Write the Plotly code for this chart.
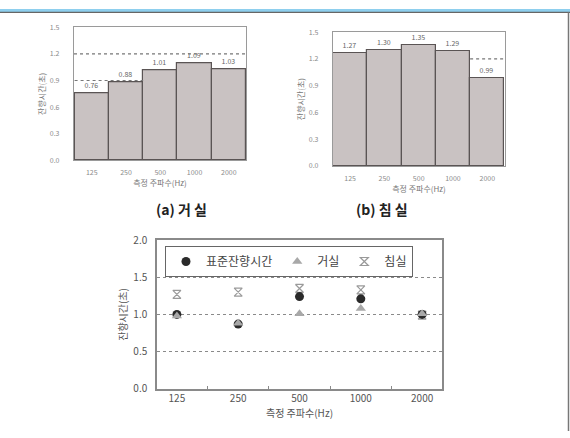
import plotly.graph_objects as go

W, H = 570, 438

# --- data ---
freqs = ["125", "250", "500", "1000", "2000"]
living_rt = [0.76, 0.88, 1.01, 1.09, 1.03]        # (a) 거실
bedroom_rt = [1.27, 1.30, 1.35, 1.29, 0.99]       # (b) 침실
standard_rt = [1.00, 0.87, 1.24, 1.21, 1.00]      # 표준잔향시간
living_pts = [0.98, 0.88, 1.01, 1.08, 1.01]       # 거실 (비교 그래프)
bedroom_pts = [1.27, 1.30, 1.35, 1.33, 0.99]      # 침실 (비교 그래프)
top_ticks = [0.0, 0.3, 0.6, 0.9, 1.2, 1.5]
bottom_ticks = [0.0, 0.5, 1.0, 1.5, 2.0]
ref_upper = 1.2
ref_lower = 0.9

KFONT = "Noto Sans CJK KR, Noto Sans, sans-serif"
BAR_FILL = "#c9c2c2"
BAR_EDGE = "#5a5454"


def px_x(a, b):
    return [a / W, b / W]


def px_y(top, bottom):
    return [1 - bottom / H, 1 - top / H]


fig = go.Figure()

# bar charts
for vals, xa, ya in [(living_rt, "x", "y"), (bedroom_rt, "x2", "y2")]:
    fig.add_trace(go.Bar(
        x=freqs, y=vals, xaxis=xa, yaxis=ya,
        marker=dict(color=BAR_FILL, line=dict(color=BAR_EDGE, width=1.2)),
        text=[f"{v:.2f}" for v in vals], textposition="outside",
        textfont=dict(size=7, color="#666", family=KFONT),
        cliponaxis=False, showlegend=False, width=1.0,
    ))

# comparison scatter (legend order set by legendrank)
fig.add_trace(go.Scatter(
    x=freqs, y=bedroom_pts, xaxis="x3", yaxis="y3", mode="markers", name="침실",
    legendrank=3,
    marker=dict(symbol="hourglass-open", size=8, color="#9a9a9a", line=dict(width=1.2)),
))
fig.add_trace(go.Scatter(
    x=freqs, y=standard_rt, xaxis="x3", yaxis="y3", mode="markers", name="표준잔향시간",
    legendrank=1,
    marker=dict(symbol="circle", size=9, color="#2a2a2a"),
))
fig.add_trace(go.Scatter(
    x=freqs, y=living_pts, xaxis="x3", yaxis="y3", mode="markers", name="거실",
    legendrank=2,
    marker=dict(symbol="triangle-up", size=9, color="#a8a8a8"),
))

small_axis = dict(
    showline=True, mirror=True, linecolor="#9a9a9a", linewidth=1.2,
    showgrid=False, zeroline=False, fixedrange=True,
    tickfont=dict(size=7, color="#8a8a8a", family=KFONT),
)

fig.update_layout(
    width=W, height=H, margin=dict(l=0, r=0, t=0, b=0),
    paper_bgcolor="white", plot_bgcolor="white",
    bargap=0, font=dict(family=KFONT),
    xaxis=dict(domain=px_x(74, 246), anchor="y", type="category",
               ticks="outside", ticklen=5, tickcolor="rgba(0,0,0,0)",
               title=dict(text="측정 주파수(Hz)", font=dict(size=8, color="#777"), standoff=2),
               **small_axis),
    yaxis=dict(domain=px_y(19, 157), anchor="x", range=[0, 1.5], tickvals=top_ticks,
               tickformat=".1f", ticks="outside", ticklen=12, tickcolor="rgba(0,0,0,0)",
               title=dict(text="잔향시간(초)", font=dict(size=8, color="#777"), standoff=2),
               **small_axis),
    xaxis2=dict(domain=px_x(333, 505), anchor="y2", type="category",
                ticks="outside", ticklen=5, tickcolor="rgba(0,0,0,0)",
                title=dict(text="측정 주파수(Hz)", font=dict(size=8, color="#777"), standoff=2),
                **small_axis),
    yaxis2=dict(domain=px_y(24, 163), anchor="x2", range=[0, 1.5], tickvals=top_ticks,
                tickformat=".1f", ticks="outside", ticklen=12, tickcolor="rgba(0,0,0,0)",
                title=dict(text="잔향시간(초)", font=dict(size=8, color="#777"), standoff=2),
                **small_axis),
    xaxis3=dict(domain=px_x(157, 442), anchor="y3", type="category",
                showline=True, mirror=True, linecolor="#8a8a8a", linewidth=1.5,
                showgrid=False, zeroline=False, fixedrange=True,
                tickson="boundaries", ticks="inside", ticklen=3, tickcolor="#8a8a8a",
                tickfont=dict(size=10, color="#555"),
                title=dict(text="측정 주파수(Hz)", font=dict(size=10, color="#555"), standoff=4)),
    yaxis3=dict(domain=px_y(240, 394), anchor="x3", range=[0, 2.0], tickvals=bottom_ticks,
                tickformat=".1f", showline=True, mirror=True, linecolor="#8a8a8a", linewidth=1.5,
                showgrid=True, gridcolor="#8a8a8a", griddash="dot", gridwidth=1.2,
                zeroline=False, fixedrange=True,
                ticks="outside", ticklen=6, tickcolor="rgba(0,0,0,0)",
                tickfont=dict(size=10, color="#555"),
                title=dict(text="잔향시간(초)", font=dict(size=10, color="#555"), standoff=4)),
    legend=dict(orientation="h", x=165 / W, y=1 - 246 / H, xanchor="left", yanchor="top",
                bordercolor="#666", borderwidth=1, bgcolor="rgba(255,255,255,0)",
                font=dict(size=12, color="#444"), itemwidth=30, entrywidth=0),
    showlegend=True,
)

shapes = [
    # header band and rule
    dict(type="rect", xref="paper", yref="paper", x0=0, x1=1, y0=1 - 3 / H, y1=1,
         fillcolor="#8ecfee", line=dict(width=0), layer="above"),
    dict(type="line", xref="paper", yref="paper", x0=0, x1=1, y0=1 - 3.5 / H, y1=1 - 3.5 / H,
         line=dict(color="#666", width=1.2)),
    dict(type="line", xref="paper", yref="paper", x0=1 - 1.5 / W, x1=1 - 1.5 / W, y0=0, y1=1 - 3.5 / H,
         line=dict(color="#777", width=1.5)),
    # reference lines on the bar charts
    dict(type="line", xref="x domain", yref="y", x0=0, x1=1, y0=ref_upper, y1=ref_upper,
         line=dict(color="#777", width=1.2, dash="dot"), layer="above"),
    dict(type="line", xref="x", yref="y", x0=-0.5, x1=1.5, y0=ref_lower, y1=ref_lower,
         line=dict(color="#777", width=1.2, dash="dot"), layer="above"),
    dict(type="line", xref="x2", yref="y2", x0=3.5, x1=4.5, y0=ref_upper, y1=ref_upper,
         line=dict(color="#777", width=1.2, dash="dot"), layer="above"),
]
fig.update_layout(shapes=shapes)

fig.add_annotation(text="<b>(a) 거 실</b>", x=154 / W, y=1 - 208 / H, xref="paper", yref="paper",
                   showarrow=False, font=dict(size=14, color="#222", family=KFONT))
fig.add_annotation(text="<b>(b) 침 실</b>", x=410 / W, y=1 - 208 / H, xref="paper", yref="paper",
                   showarrow=False, font=dict(size=14, color="#222", family=KFONT))

fig.write_html("out.html")
